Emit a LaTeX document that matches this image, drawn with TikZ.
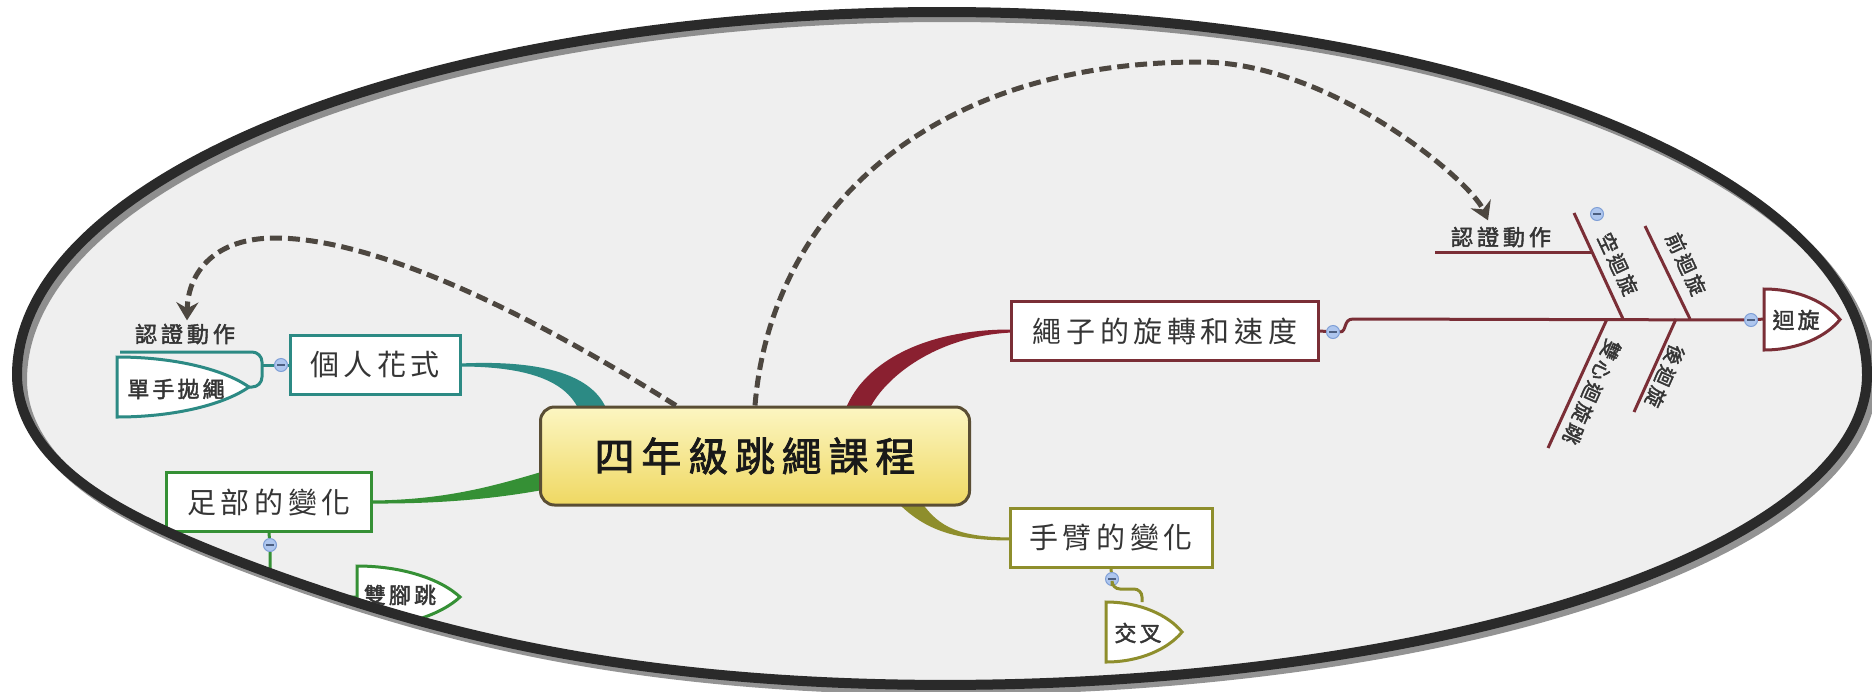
\documentclass[tikz,border=0pt]{standalone}
\usepackage{fontspec}
\usetikzlibrary{arrows.meta,calc}
\newfontfamily\cjk{Noto Sans CJK TC}
\newfontfamily\cjkbold[FakeBold=2]{Noto Sans CJK TC}
\definecolor{bgfill}{HTML}{EFEFEF}
\definecolor{rim}{HTML}{2A2A2A}
\definecolor{tealc}{HTML}{2C8A84}
\definecolor{greenc}{HTML}{359035}
\definecolor{maroonc}{HTML}{8A2030}
\definecolor{ribc}{HTML}{7A2E36}
\definecolor{olivec}{HTML}{8E8E2C}
\definecolor{dashc}{HTML}{4D4740}
\definecolor{txt}{HTML}{353535}
\definecolor{rootline}{HTML}{5A4E34}
\definecolor{rtop}{HTML}{FCF6C2}
\definecolor{rbot}{HTML}{EFD862}
\definecolor{tgl}{HTML}{AEC6EE}
\definecolor{tgldraw}{HTML}{7F9FD6}
\newcommand\leafshape[5]{%
  \draw[#1, line width=1.5pt, fill=white] (#2,#3)
   .. controls ({#2+0.45*(#5-#2)},#3) and ({#2+0.82*(#5-#2)},{#3+0.22*(#4-#3)}) .. (#5,{(#3+#4)/2})
   .. controls ({#2+0.82*(#5-#2)},{#4-0.22*(#4-#3)}) and ({#2+0.45*(#5-#2)},#4) .. (#2,#4) -- cycle;}
% oval frame: centre (942,375), half-width #1, upper half-height #2, lower half-height #3, lower-left dent #4 (px)
\newcommand\ovalpath[4]{plot[domain=0:359, samples=360, variable=\t]
  ({942+#1*cos(\t)}, {375+sin(\t)*((\t<180)*#3+(1-(\t<180))*#2)-#4*exp(-1*(((\t-138)/21)^2))}) -- cycle}
\tikzset{
  topicbox/.style={draw=#1, line width=1.5pt, fill=white, inner sep=0pt, minimum height=29.5pt,
    text=txt, font=\cjk\fontsize{14.5}{16}\selectfont\addfontfeature{LetterSpace=16}},
  rootbox/.style={draw=rootline, line width=1.5pt, rounded corners=7pt, top color=rtop, bottom color=rbot,
    minimum width=214.5pt, minimum height=49pt, inner sep=0pt, text=black!90,
    font=\cjkbold\fontsize{20}{22}\selectfont\addfontfeature{LetterSpace=17}},
  smalllabel/.style={inner sep=0pt, text=txt, font=\cjkbold\fontsize{11}{12}\selectfont\addfontfeature{LetterSpace=18}},
  leaftext/.style={inner sep=0pt, text=txt, font=\cjkbold\fontsize{11}{12}\selectfont\addfontfeature{LetterSpace=14}},
  ribtext/.style={inner sep=0pt, text=txt, font=\cjkbold\fontsize{10}{11}\selectfont\addfontfeature{LetterSpace=15}},
  toggle/.style={circle, fill=tgl, draw=tgldraw, line width=0.5pt, minimum size=6.5pt, inner sep=0pt,
    path picture={\draw[tgldraw!60!black, line width=0.6pt] ([xshift=-1.8pt]path picture bounding box.center) -- ([xshift=1.8pt]path picture bounding box.center);}},
  dasharrow/.style={dashc, line width=2.5pt, dash pattern=on 6pt off 3pt, -{Stealth[length=9pt,width=11pt,inset=3pt]}},
  thin/.style={line width=1.5pt}
}
\begin{document}
\begin{tikzpicture}[x=0.5pt,y=-0.5pt]
\useasboundingbox (0,0) rectangle (1872,691);
\fill[white] (0,0) rectangle (1872,691);
\fill[bgfill] \ovalpath{925}{363}{310}{15};
\begin{scope}
\clip \ovalpath{920}{358}{305}{15};
% tapered main branches
\fill[tealc] (460,363.5) .. controls (535,360) and (590,372) .. (606,408) -- (578,408) .. controls (565,382) and (530,366.5) .. (460,366.5) -- cycle;
\fill[greenc] (371,500.5) .. controls (450,500) and (500,484) .. (548,470) -- (548,489) .. controls (505,497) and (450,504) .. (371,503.5) -- cycle;
\fill[maroonc] (846,408) .. controls (865,362) and (925,329) .. (1012,329.5) -- (1012,332.5) .. controls (935,336) and (885,378) .. (870,408) -- cycle;
\fill[olivec] (898,503) .. controls (925,530) and (955,540.5) .. (1011,540.5) -- (1011,537.5) .. controls (960,537) and (940,528) .. (922,503) -- cycle;
% central topic
\node[rootbox] (root) at (755,456) {四年級跳繩課程};
% main topics
\node[topicbox=tealc, minimum width=85pt] (p1) at (375,365) {個人花式};
\node[topicbox=greenc, minimum width=102.5pt] (p2) at (269,502) {足部的變化};
\node[topicbox=ribc, minimum width=153.5pt] (p3) at (1165,331) {繩子的旋轉和速度};
\node[topicbox=olivec, minimum width=101pt] (p4) at (1111,538) {手臂的變化};
% toggles
\node[toggle] (tg1) at (281,365) {};
\node[toggle] (tg2) at (270,545) {};
\node[toggle] (tg3) at (1333,332) {};
\node[toggle] (tg4) at (1751,320) {};
\node[toggle] (tg5) at (1112,579) {};
% left subtree (個人花式)
\draw[tealc, thin] (p1.west) -- (tg1);
\draw[tealc, thin] (tg1) -- (262,365);
\draw[tealc, thin, rounded corners=5pt] (120,352) -- (262,352) -- (262,387) -- (249,387);
\leafshape{tealc}{117}{357}{417}{249}
\node[leaftext] (single) at (176,389) {單手拋繩};
\node[smalllabel] (lcert) at (185,334) {認證動作};
% 足部的變化 subtree
\draw[greenc, thin] (p2.south) -- (tg2);
\draw[greenc, thin, rounded corners=5pt] (tg2) -- (270,597) -- (357,597);
\leafshape{greenc}{357}{566}{628}{460}
\node[leaftext] (both) at (400,595) {雙腳跳};
% 手臂的變化 subtree
\draw[olivec, thin] (p4.south) -- (tg5);
\draw[olivec, thin, rounded corners=4pt] (tg5) -- (1112,589) -- (1142,589) -- (1142,602);
\leafshape{olivec}{1106}{602}{662}{1182}
\node[leaftext] (cross) at (1138,633) {交叉};
% fishbone
\draw[ribc, thin] (p3.east) -- (tg3);
\draw[ribc, thin] (tg3) -- (1340,332) .. controls (1347,332) and (1343,319) .. (1353,319) -- (tg4);
\draw[ribc, thin] (tg4) -- (1764,319);
\leafshape{ribc}{1764}{289}{350}{1840}
\node[leaftext] (spin) at (1796,320) {迴旋};
\coordinate (u1a) at (1623,319); \coordinate (u1b) at (1574,213);
\coordinate (u2a) at (1690,319); \coordinate (u2b) at (1645,226);
\coordinate (d1a) at (1607,319); \coordinate (d1b) at (1548,448);
\coordinate (d2a) at (1676,319); \coordinate (d2b) at (1634,412);
\draw[ribc, thin] (u1a) -- (u1b);
\draw[ribc, thin] (u2a) -- (u2b);
\draw[ribc, thin] (d1a) -- (d1b);
\draw[ribc, thin] (d2a) -- (d2b);
\draw[ribc, thin] (1435,252) -- (1592,252);
\node[toggle] (tg6) at (1597,214) {};
\node[smalllabel] (rcert) at (1501,237) {認證動作};
\node[ribtext, rotate=-65] (kong) at (1618,264) {空迴旋};
\node[ribtext, rotate=-65] (front) at (1686,264) {前迴旋};
\node[ribtext, rotate=-114] (dbl) at (1592,392) {雙心迴旋跳};
\node[ribtext, rotate=-114] (back) at (1665,376) {後迴旋};
% dashed relation arrows
\draw[dasharrow] ($(root.north west)!0.317!(root.north east)$) .. controls (540,320) and (380,238) .. (275,238)
   .. controls (215,238) and (188,272) .. ($(lcert.north)+(2,-3)$);
\draw[dasharrow] (root.north) .. controls (770,220) and (920,62) .. (1200,62)
   .. controls (1330,62) and (1470,180) .. ($(rcert.north)+(-13,-6)$);
\end{scope}
% frame
\begin{scope}[shift={(5,5)}]
\draw[black!60, line width=5pt, opacity=0.7] \ovalpath{925}{363}{310}{15};
\end{scope}
\draw[rim, line width=5pt, line join=round] \ovalpath{925}{363}{310}{15};
\end{tikzpicture}
\end{document}
